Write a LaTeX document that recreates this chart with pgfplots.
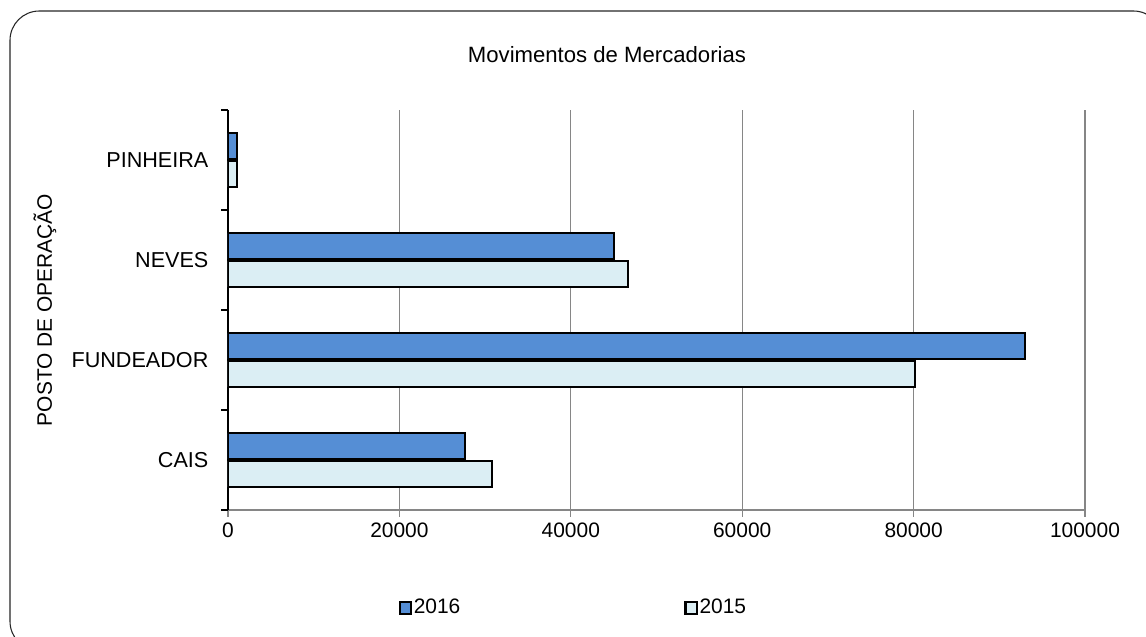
\documentclass[border=0pt]{standalone}
\usepackage{pgfplots}
\pgfplotsset{compat=1.18}
\usepackage{fontspec}
\setmainfont{Liberation Sans}
\definecolor{c16}{RGB}{85,142,213}
\definecolor{c15}{RGB}{219,238,244}
\definecolor{gridc}{RGB}{134,134,134}
\begin{document}
\fontsize{15.5pt}{18pt}\selectfont
\begin{tikzpicture}
\clip (0,0) rectangle (859.5pt,477pt);
\draw[line width=0.8pt, draw=black!85, rounded corners=22pt] (7.5pt,468.75pt) rectangle (872pt,-11pt);
\begin{axis}[
  at={(171pt,94.5pt)}, anchor=south west,
  scale only axis, width=642.75pt, height=300pt,
  xbar, bar width=19.5pt,
  xmin=0, xmax=100000, ymin=-0.5, ymax=3.5,
  axis x line=bottom, axis y line=left, axis line style={-},
  x axis line style={gridc, line width=1pt},
  y axis line style={black, line width=1pt},
  xtick={0,20000,40000,60000,80000,100000},
  scaled x ticks=false,
  /pgf/number format/.cd, 1000 sep={}, fixed, assume math mode=true, /pgfplots/.cd,
  xticklabel style={inner sep=0pt, yshift=-4.5pt, font=\fontsize{15.7pt}{18pt}\selectfont},
  x tick style={gridc, line width=1pt},
  tick align=outside, major tick length=5pt,
  ytick={0,1,2,3},
  yticklabels={CAIS,FUNDEADOR,NEVES,PINHEIRA},
  y tick style={draw=none},
  yticklabel style={inner sep=0pt, xshift=-9.5pt, font=\fontsize{16.2pt}{18pt}\selectfont},
  extra y ticks={-0.5,0.5,1.5,2.5,3.5},
  extra y tick labels={},
  extra y tick style={y tick style={draw=black, line width=1pt}, major tick length=5pt, tick align=outside, grid=none},
  xmajorgrids, grid style={gridc, line width=1pt},
  ylabel={POSTO DE OPERAÇÃO},
  ylabel style={at={(axis description cs:-0.2135,0.5)}, anchor=center, font=\fontsize{15.7pt}{18pt}\selectfont},
  title={Movimentos de Mercadorias},
  title style={at={(axis description cs:0.4422,1.1175)}, anchor=center, font=\fontsize{16.6pt}{18pt}\selectfont},
  legend columns=2,
  legend style={at={(axis description cs:0.4026,-0.245)}, anchor=center, draw=none,
    font=\fontsize{15.7pt}{18pt}\selectfont,
    /tikz/every even column/.append style={column sep=167pt},
    nodes={inner sep=1pt}},
  legend image code/.code={\draw[#1, line width=1.8pt] (0pt,-4.3pt) rectangle (8.6pt,4.3pt);},
]
\addplot[draw=black, fill=c16, line width=1.5pt, bar shift=10.5pt] coordinates {
  (27700,0) (93000,1) (45000,2) (1000,3)};
\addlegendentry{2016}
\addplot[draw=black, fill=c15, line width=1.5pt, bar shift=-10.5pt] coordinates {
  (30800,0) (80200,1) (46700,2) (1000,3)};
\addlegendentry{2015}
\end{axis}
\end{tikzpicture}
\end{document}
